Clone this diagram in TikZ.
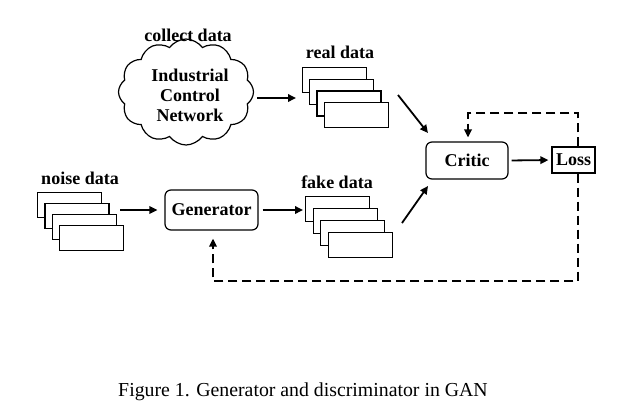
\documentclass[tikz,border=0pt]{standalone}
\usepackage{fontspec}
\setmainfont{Liberation Serif}
\usetikzlibrary{shapes.symbols,arrows.meta,calc}
\begin{document}
\begin{tikzpicture}[x=1pt,y=-1pt,
  lbl/.style={font=\bfseries\fontsize{18}{20}\selectfont,inner sep=0pt},
  sheet/.style={draw,fill=white,line width=1.2pt,minimum width=64pt,minimum height=25pt,inner sep=0pt,anchor=north west},
  rbox/.style={draw,line width=1.2pt,rounded corners=6pt,inner sep=0pt,font=\bfseries\fontsize{18}{20}\selectfont},
  arr/.style={line width=1.8pt,-{Triangle[length=8pt,width=7.5pt]}},
  darr/.style={line width=1.9pt,dash pattern=on 9pt off 5pt,-{Triangle[length=8pt,width=7.5pt]}}]
\useasboundingbox (0,0) rectangle (631,416);
% cloud
\node[cloud,draw,line width=1.2pt,cloud puffs=12,cloud puff arc=110,cloud ignores aspect,
  minimum width=135pt,minimum height=106pt,inner sep=0pt] (cld) at (186,92) {};
\node[lbl,align=center] (cldtxt) at (190,95) {Industrial\\[0pt]Control\\[0pt]Network};
\node[lbl] (collect) at (188,35) {collect data};
% real data
\node[lbl] (reallbl) at (340,52) {real data};
\foreach \i in {0,1,2,3}{
  \node[sheet] (real\i) at (302+7.2*\i,67+11.7*\i) {};
}
% noise data
\node[lbl] (noiselbl) at (80,178) {noise data};
\foreach \i in {0,1,2,3}{
  \node[sheet] (noise\i) at (37+7.3*\i,192+11*\i) {};
}
% fake data
\node[lbl] (fakelbl) at (337,182) {fake data};
\foreach \i in {0,1,2,3}{
  \node[sheet] (fake\i) at (305+7.6*\i,196+12*\i) {};
}
% boxes
\node[rbox,minimum width=93pt,minimum height=40pt] (gen) at (211.5,210) {Generator};
\node[rbox,minimum width=82pt,minimum height=37pt] (critic) at (467,160.5) {Critic};
\node[draw,line width=1.2pt,inner sep=0pt,minimum width=43pt,minimum height=26pt,
  font=\bfseries\fontsize{18}{20}\selectfont] (loss) at (573.5,160) {Loss};
% coordinates
\coordinate (c1s) at (257,98);
\coordinate (c1e) at (296,98);
\coordinate (r2s) at (398,95);
\coordinate (r2e) at (428,133);
\coordinate (f2s) at (402,223);
\coordinate (f2e) at (428,186);
\coordinate (n1s) at (120,210);
\coordinate (topr) at (578,113);
\coordinate (topl) at (468,113);
\coordinate (botr) at (578,281);
\coordinate (botl) at (213,281);
% arrows
\draw[arr] (c1s) -- (c1e);
\draw[arr] (r2s) -- (r2e);
\draw[arr] (f2s) -- (f2e);
\draw[arr,shorten >=7pt] (n1s) -- (gen.west);
\draw[arr,shorten <=4pt,shorten >=2pt] (gen.east) -- (gen.east -| fake0.west);
\draw[arr,shorten <=3pt,shorten >=3pt] (critic.east) -- (loss.west);
\draw[darr,shorten >=4pt] (loss.north -| topr) -- (topr) -- (topl) -- (topl |- critic.north);
\draw[darr,shorten >=8pt] (loss.south -| botr) -- (botr) -- (botl) -- (botl |- gen.south);
% caption
\node[font=\fontsize{19.8}{22}\selectfont,inner sep=0pt] (cap) at (303,392) {Figure 1. Generator and discriminator in GAN};
\end{tikzpicture}
\end{document}
